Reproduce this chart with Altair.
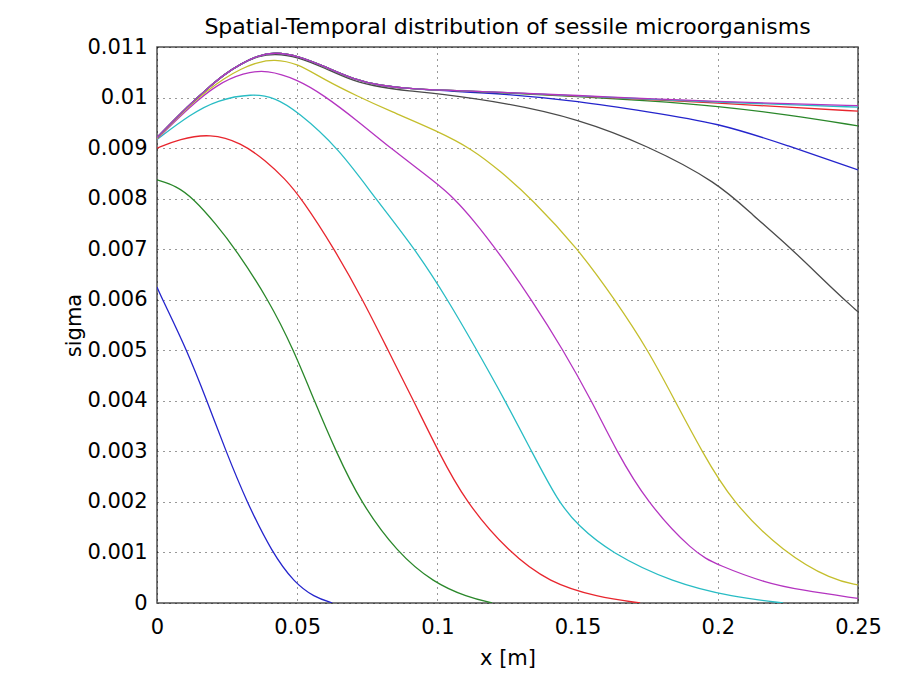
import altair as alt
import pandas as pd

# ---- data ----
X_TOP = [0, 0.006, 0.012, 0.018, 0.024, 0.03, 0.036, 0.042, 0.05, 0.06, 0.07, 0.08, 0.09, 0.1,
         0.125, 0.15, 0.175, 0.2, 0.225, 0.25]

s01_x = [0, 0.002, 0.0107, 0.0178, 0.0246, 0.032, 0.041, 0.049, 0.056, 0.0625]
s01_y = [0.00625, 0.0060, 0.0050, 0.0040, 0.0030, 0.0020, 0.0010, 0.0004, 0.00012, 0.0]

s02_x = [0, 0.007, 0.013, 0.021, 0.028, 0.0398, 0.0488, 0.0561, 0.0638, 0.0725, 0.0856, 0.0987, 0.1106, 0.1195]
s02_y = [0.00837, 0.00825, 0.0080, 0.0075, 0.0070, 0.0060, 0.0050, 0.0040, 0.0030, 0.0020, 0.0010, 0.0004, 0.00012, 0.0]

s03_x = [0, 0.008, 0.019, 0.03, 0.039, 0.0455, 0.0516, 0.0633, 0.0734, 0.0824, 0.0915, 0.1003, 0.11,
         0.1255, 0.140, 0.157, 0.1723]
s03_y = [0.0090, 0.00918, 0.00929, 0.00911, 0.00874, 0.0084, 0.0080, 0.0070, 0.0060, 0.0050, 0.0040,
         0.0030, 0.0020, 0.0010, 0.0004, 0.00012, 0.0]

s04_x = [0, 0.012, 0.0214, 0.034, 0.042, 0.05, 0.0648, 0.0779, 0.0921, 0.1037, 0.1141, 0.1242, 0.1336,
         0.1431, 0.15, 0.1616, 0.184, 0.2054, 0.2233]
s04_y = [0.00917, 0.00967, 0.00995, 0.01008, 0.01000, 0.00973, 0.0090, 0.0080, 0.0070, 0.0060, 0.0050,
         0.0040, 0.0030, 0.0020, 0.00154, 0.0010, 0.0004, 0.00012, 0.0]

s05_x = [0, 0.0119, 0.0214, 0.0309, 0.0392, 0.05, 0.0594, 0.0713, 0.0832, 0.0999, 0.106, 0.1125, 0.1223,
         0.1336, 0.1449, 0.155, 0.1639, 0.1746, 0.1913, 0.2, 0.2174, 0.2293, 0.25]
s05_y = [0.00918, 0.00983, 0.01026, 0.01049, 0.01055, 0.01036, 0.01005, 0.00955, 0.0090, 0.0083, 0.0080,
         0.0076, 0.0069, 0.0060, 0.0050, 0.0040, 0.0030, 0.0020, 0.0010, 0.00075, 0.00039, 0.00026, 0.00009]

s06_x = [0, 0.006, 0.012, 0.018, 0.024, 0.03, 0.036, 0.0416, 0.05, 0.0594, 0.0713, 0.0832, 0.0999,
         0.1124, 0.1223, 0.1336, 0.1503, 0.1633, 0.1752, 0.1847, 0.1943, 0.205, 0.2234, 0.241, 0.25]
s06_y = [0.00919, 0.00953, 0.00986, 0.01014, 0.01038, 0.01057, 0.01070, 0.01076, 0.01068, 0.01036,
         0.01003, 0.00973, 0.00934, 0.00898, 0.00855, 0.0080, 0.0070, 0.0060, 0.0050, 0.0040, 0.0030,
         0.0020, 0.0010, 0.00045, 0.00036]

s07_x = [0, 0.006, 0.012, 0.018, 0.024, 0.03, 0.036, 0.042, 0.05, 0.06, 0.07, 0.08, 0.09, 0.1,
         0.125, 0.15, 0.175, 0.2, 0.2127, 0.225, 0.2412, 0.25]
s07_y = [0.00921, 0.00955, 0.00988, 0.01018, 0.01046, 0.01067, 0.01082, 0.01087, 0.01081, 0.01058,
         0.01032, 0.01020, 0.01013, 0.01008, 0.00989, 0.00958, 0.00905, 0.00832, 0.00766, 0.00708,
         0.0062, 0.00576]

s08_y = [0.00921, 0.00955, 0.00988, 0.01018, 0.01046, 0.01067, 0.01083, 0.01090, 0.01083, 0.01061,
         0.01036, 0.01023, 0.01018, 0.01014, 0.01007, 0.00993, 0.00972, 0.0095, 0.00905, 0.00857]
s09_y = [0.00921, 0.00955, 0.00988, 0.01018, 0.01046, 0.01067, 0.01083, 0.01090, 0.01083, 0.01061,
         0.01036, 0.01023, 0.01018, 0.01015, 0.01009, 0.01002, 0.00994, 0.00983, 0.00966, 0.00944]
s10_y = [0.00921, 0.00955, 0.00988, 0.01018, 0.01046, 0.01067, 0.01083, 0.01090, 0.01083, 0.01061,
         0.01036, 0.01023, 0.01018, 0.01015, 0.01010, 0.01003, 0.00996, 0.00989, 0.00981, 0.00973]
s11_y = [0.00921, 0.00955, 0.00988, 0.01018, 0.01046, 0.01067, 0.01083, 0.01090, 0.01083, 0.01061,
         0.01036, 0.01023, 0.01018, 0.01015, 0.01010, 0.01003, 0.00997, 0.00991, 0.00986, 0.00981]
s12_y = [0.00921, 0.00955, 0.00988, 0.01018, 0.01046, 0.01067, 0.01083, 0.01090, 0.01083, 0.01061,
         0.01036, 0.01023, 0.01018, 0.01015, 0.01010, 0.01004, 0.00998, 0.00992, 0.00988, 0.00984]

SERIES = [
    ("s01", s01_x, s01_y), ("s02", s02_x, s02_y), ("s03", s03_x, s03_y), ("s04", s04_x, s04_y),
    ("s05", s05_x, s05_y), ("s06", s06_x, s06_y), ("s07", s07_x, s07_y), ("s08", X_TOP, s08_y),
    ("s09", X_TOP, s09_y), ("s10", X_TOP, s10_y), ("s11", X_TOP, s11_y), ("s12", X_TOP, s12_y),
]
COLORS = ["#2424CC", "#2A872A", "#E8262E", "#28BCC4", "#B434C0", "#C4BE2C", "#4A4A4A",
          "#2424CC", "#2A872A", "#E8262E", "#28BCC4", "#B434C0"]

X_TICKS = [0, 0.05, 0.1, 0.15, 0.2, 0.25]
Y_TICKS = [0, 0.001, 0.002, 0.003, 0.004, 0.005, 0.006, 0.007, 0.008, 0.009, 0.01, 0.011]

rows = []
for name, xs, ys in SERIES:
    for i, (xv, yv) in enumerate(zip(xs, ys)):
        rows.append({"series": name, "x": xv, "sigma": yv, "i": i})
df = pd.DataFrame(rows)

FONT = "DejaVu Sans"

chart = alt.Chart(df).mark_line(strokeWidth=1.3, interpolate="basis", clip=True).encode(
    x=alt.X("x:Q", scale=alt.Scale(domain=[0, 0.25], nice=False),
            axis=alt.Axis(values=X_TICKS, format="~f", title="x [m]", labelFlush=False,
                          labelPadding=13, titlePadding=10)),
    y=alt.Y("sigma:Q", scale=alt.Scale(domain=[0, 0.011], nice=False),
            axis=alt.Axis(values=Y_TICKS, format="~f", title="sigma", labelFlush=False,
                          labelPadding=10, titleX=-73, titleY=278, titleAlign="center")),
    color=alt.Color("series:N", scale=alt.Scale(domain=[s[0] for s in SERIES], range=COLORS),
                    legend=None),
    order=alt.Order("i:Q"),
).properties(
    width=701, height=556,
    background="white",
    title=alt.TitleParams("Spatial-Temporal distribution of sessile microorganisms",
                          font=FONT, fontSize=22, fontWeight="normal", color="#000",
                          anchor="middle", offset=8, dy=11),
    autosize=alt.AutoSizeParams(type="none"),
    padding={"left": 149, "top": 39, "right": 57, "bottom": 67},
).configure_view(
    stroke="#505050", strokeWidth=1.5
).configure_axis(
    labelFont=FONT, labelFontSize=21, labelColor="#000",
    titleFont=FONT, titleFontSize=21, titleFontWeight="normal", titleColor="#000",
    grid=True, gridColor="#000", gridDash=[1, 5], gridWidth=1, gridOpacity=0.8,
    ticks=False, domain=False,
)

chart.save("out.html", embed_options={"renderer": "svg", "actions": False})
